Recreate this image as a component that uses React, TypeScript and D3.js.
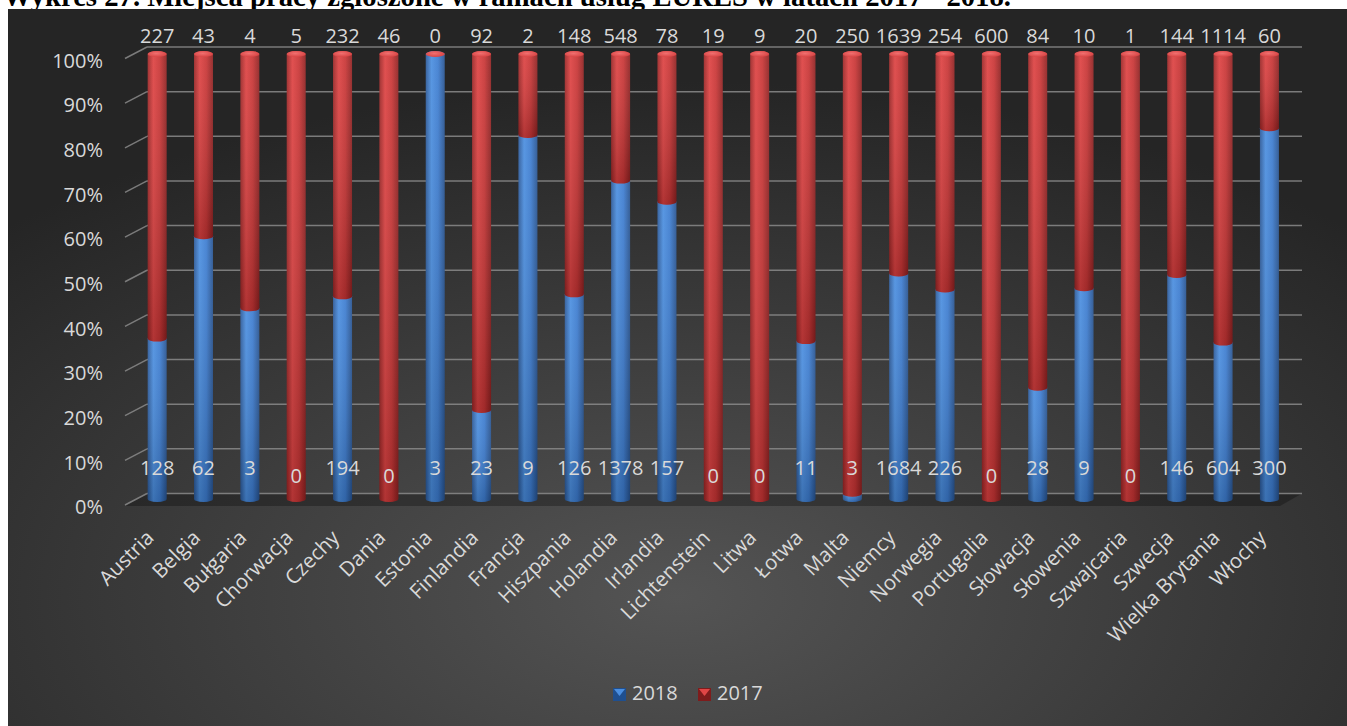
import * as d3 from 'd3';

// Dane: miejsca pracy EURES (2018 vs 2017)
const countries = [
  'Austria', 'Belgia', 'Bułgaria', 'Chorwacja', 'Czechy', 'Dania', 'Estonia', 'Finlandia',
  'Francja', 'Hiszpania', 'Holandia', 'Irlandia', 'Lichtenstein', 'Litwa', 'Łotwa', 'Malta',
  'Niemcy', 'Norwegia', 'Portugalia', 'Słowacja', 'Słowenia', 'Szwajcaria', 'Szwecja',
  'Wielka Brytania', 'Włochy',
];
const jobs2018 = [128, 62, 3, 0, 194, 0, 3, 23, 9, 126, 1378, 157, 0, 0, 11, 3, 1684, 226, 0, 28, 9, 0, 146, 604, 300];
const jobs2017 = [227, 43, 4, 5, 232, 46, 0, 92, 2, 148, 548, 78, 19, 9, 20, 250, 1639, 254, 600, 84, 10, 1, 144, 1114, 60];
const yTicks = [0, 0.1, 0.2, 0.3, 0.4, 0.5, 0.6, 0.7, 0.8, 0.9, 1];
const seriesNames = ['2018', '2017'];
const title = 'Wykres 27. Miejsca pracy zgłoszone w ramach usług EURES w latach 2017 - 2018.';

const W = 1347;
const H = 726;
const FONT = '"Open Sans", "Noto Sans", sans-serif';
const TXT = '#d9d9d9';
const GRID = '#8a8a8a';

export default function App() {
  // pozycja w głębi (tylna ściana vs. przód)
  const depthX = 22;
  const depthY = 11.5;
  const x = d3.scaleBand<string>().domain(countries).range([134, 1292.6]);
  const yBack = d3.scaleLinear().domain([0, 1]).range([493.5, 47]);
  const yBar = d3.scaleLinear().domain([0, 1]).range([499, 54]);
  const fmtPct = d3.format('.0%');
  const rx = 9.5;
  const ry = 3;

  const backL = x.range()[0] + 13;
  const backR = x.range()[1] + 9.4;

  const bars = countries.map((c, i) => {
    const total = jobs2018[i] + jobs2017[i];
    const share = total ? jobs2018[i] / total : 0;
    return { c, cx: (x(c) ?? 0) + x.bandwidth() / 2, share, v18: jobs2018[i], v17: jobs2017[i] };
  });

  const seg = (cx: number, yt: number, yb: number) =>
    `M${cx - rx},${yt} L${cx - rx},${yb} A${rx},${ry} 0 0 0 ${cx + rx},${yb} L${cx + rx},${yt} A${rx},${ry} 0 0 0 ${cx - rx},${yt} Z`;

  // legenda: znacznik 13px, odstęp 6px, tekst, przerwa 20px
  const legendStart = 613;
  const legendStep = 85;

  return (
    <svg width={W} height={H} style={{ position: 'absolute', left: 0, top: 0, display: 'block' }}>
      <defs>
        <radialGradient id="bg" cx="0.5" cy="0.82" r="0.72">
          <stop offset="0" stopColor="#545454" />
          <stop offset="0.55" stopColor="#3a3a3a" />
          <stop offset="1" stopColor="#252525" />
        </radialGradient>
        <linearGradient id="blueBody" x1="0" x2="1" y1="0" y2="0">
          <stop offset="0" stopColor="#2a5898" />
          <stop offset="0.3" stopColor="#4a8ee0" />
          <stop offset="0.65" stopColor="#3c7cd0" />
          <stop offset="1" stopColor="#26528f" />
        </linearGradient>
        <linearGradient id="redBody" x1="0" x2="1" y1="0" y2="0">
          <stop offset="0" stopColor="#9a2424" />
          <stop offset="0.3" stopColor="#de4141" />
          <stop offset="0.65" stopColor="#c83434" />
          <stop offset="1" stopColor="#8e2020" />
        </linearGradient>
        <linearGradient id="shade" x1="0" x2="0" y1="0" y2="1">
          <stop offset="0" stopColor="#ffffff" stopOpacity="0.08" />
          <stop offset="1" stopColor="#000000" stopOpacity="0.2" />
        </linearGradient>
        <radialGradient id="capRed" cx="0.45" cy="0.4" r="0.6">
          <stop offset="0" stopColor="#f07070" />
          <stop offset="1" stopColor="#d84444" />
        </radialGradient>
      </defs>

      <text x={3} y={6} fontFamily='"Liberation Serif", "Times New Roman", serif' fontWeight="bold"
        fontSize={28.7} fill="#000">{title}</text>

      <rect x={8} y={9} width={W - 8} height={H - 9} fill="url(#bg)" />

      {/* podłoga */}
      <polygon
        points={`${backL - depthX},${yBack(0) + depthY + 1} ${backL},${yBack(0)} ${backR},${yBack(0)} ${backR - depthX},${yBack(0) + depthY + 1}`}
        fill="#000" opacity={0.28} />

      {/* siatka */}
      <g stroke={GRID} strokeWidth={1.5} fill="none" opacity={0.85}>
        {yTicks.map(t => (
          <g key={t}>
            <line x1={backL} x2={backR} y1={yBack(t)} y2={yBack(t)} />
            <line x1={backL - depthX} x2={backL} y1={yBack(t) + depthY} y2={yBack(t)} />
          </g>
        ))}
      </g>

      {yTicks.map(t => (
        <text key={t} x={103} y={yBack(t) + depthY + 4} textAnchor="end" dominantBaseline="middle"
          fontFamily={FONT} fontSize={20} fill={TXT}>{fmtPct(t)}</text>
      ))}

      {/* słupki walcowe */}
      {bars.map(b => {
        const y0 = yBar(0);
        const yj = yBar(b.share);
        const y1 = yBar(1);
        return (
          <g key={b.c}>
            {b.share > 0 && (
              <>
                <path d={seg(b.cx, yj, y0)} fill="url(#blueBody)" />
                <path d={seg(b.cx, yj, y0)} fill="url(#shade)" />
              </>
            )}
            {b.share < 1 && (
              <>
                <path d={seg(b.cx, y1, yj)} fill="url(#redBody)" />
                <path d={seg(b.cx, y1, yj)} fill="url(#shade)" />
              </>
            )}
            <ellipse cx={b.cx} cy={y1} rx={rx} ry={ry} fill="url(#capRed)" />
          </g>
        );
      })}

      {/* etykiety wartości */}
      {bars.map(b => (
        <g key={b.c} fontFamily={FONT} fontSize={20} fill={TXT} textAnchor="middle">
          <text x={b.cx} y={yBar(0) - (b.v18 > 0 ? 29 : 21)} dominantBaseline="middle">{b.v18}</text>
          <text x={b.cx} y={yBack(1) - 9} dominantBaseline="middle">{b.v17}</text>
        </g>
      ))}

      {/* kategorie */}
      {bars.map(b => (
        <text key={b.c} transform={`translate(${b.cx - 2},${539}) rotate(-45)`} textAnchor="end"
          fontFamily={FONT} fontSize={20.5} fill={TXT}>{b.c}</text>
      ))}

      {/* legenda */}
      {seriesNames.map((s, i) => {
        const lx = legendStart + i * legendStep;
        const ly = 688;
        const dark = i === 0 ? '#1f4f8f' : '#7e1c1c';
        const light = i === 0 ? '#4a8ee0' : '#e04646';
        return (
          <g key={s}>
            <rect x={lx} y={ly} width={13} height={13} fill={dark} />
            <polygon points={`${lx + 1},${ly + 1} ${lx + 12},${ly + 1} ${lx + 6.5},${ly + 8}`} fill={light} />
            <text x={lx + 19} y={ly + 7} dominantBaseline="middle" fontFamily={FONT} fontSize={20} fill={TXT}>{s}</text>
          </g>
        );
      })}
    </svg>
  );
}
